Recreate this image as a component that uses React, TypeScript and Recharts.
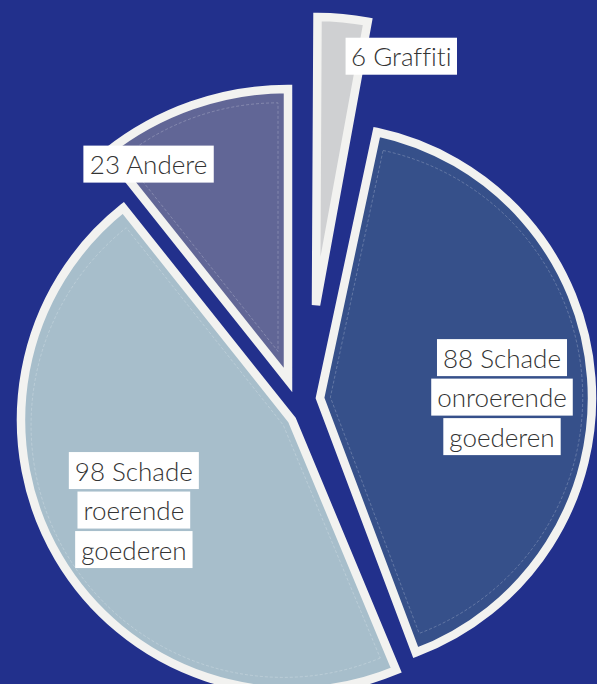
import { Cell, Pie, PieChart } from "recharts";

const categories = ["Graffiti", "Schade onroerende goederen", "Schade roerende goederen", "Andere"];
const counts = [6, 88, 98, 23];
const sliceColors = ["#CFD0D2", "#36508A", "#A7BECB", "#616696"];

const rows = categories.map((name, i) => ({ name, value: counts[i] }));
const total = counts.reduce((a, b) => a + b, 0);

const BG = "#22308C";
const EDGE = "#F2F2F0";
const FONT = "Lato, 'Open Sans', sans-serif";
const FONT_SIZE = 26;

// exploded slices: own centre, radius, small rotation (deg clockwise) and label spot
const placement = [
  { cx: 316, cy: 305, r: 288, rot: 0.3, labelR: 263, labelShift: 13.6, inset: false },
  { cx: 320, cy: 398, r: 272, rot: 2, labelR: 182, labelShift: 4, inset: true },
  { cx: 292, cy: 420, r: 271, rot: 0, labelR: 182, labelShift: 0.9, inset: true },
  { cx: 288, cy: 380, r: 291, rot: 0, labelR: 257, labelShift: -13.6, inset: true },
];

const RAD = Math.PI / 180;

let measureCtx: CanvasRenderingContext2D | null = null;
function textWidth(s: string) {
  if (!measureCtx) measureCtx = document.createElement("canvas").getContext("2d");
  if (!measureCtx) return s.length * FONT_SIZE * 0.5;
  measureCtx.font = `300 ${FONT_SIZE}px ${FONT}`;
  return measureCtx.measureText(s).width;
}

function wrapLabel(name: string, value: number) {
  const words = name.split(" ");
  return [`${value} ${words[0]}`, ...words.slice(1)];
}

function LabelBoxes({ x, y, lines }: { x: number; y: number; lines: string[] }) {
  const lh = 39.5;
  const h = 37;
  const pad = 6;
  const top = y - ((lines.length - 1) * lh) / 2;
  return (
    <g>
      {lines.map((t, i) => {
        const w = textWidth(t) + pad * 2;
        const yy = top + i * lh;
        return (
          <g key={i}>
            <rect x={x - w / 2} y={yy - h / 2} width={w} height={h} fill="#fff" />
            <text
              x={x}
              y={yy}
              textAnchor="middle"
              dominantBaseline="central"
              fontSize={FONT_SIZE}
              fontWeight={300}
              fontFamily={FONT}
              fill="#333"
              style={{ fontVariantLigatures: "none" }}
            >
              {t}
            </text>
          </g>
        );
      })}
    </g>
  );
}

// angles of slice i, clockwise from 12 o'clock
function sliceAngles(i: number) {
  const before = counts.slice(0, i).reduce((a, b) => a + b, 0);
  const start = (before / total) * 360 + placement[i].rot;
  const span = (counts[i] / total) * 360;
  return { mid: start + span / 2, half: span / 2 };
}

export default function App() {
  return (
    <div
      style={{
        position: "fixed",
        left: 0,
        top: 0,
        width: 597,
        height: 684,
        background: BG,
        overflow: "hidden",
      }}
    >
      <PieChart width={597} height={684} margin={{ top: 0, right: 0, bottom: 0, left: 0 }}>
        {placement.map((p, i) => (
          <Pie
            key={`slice-${i}`}
            data={rows}
            dataKey="value"
            nameKey="name"
            cx={p.cx}
            cy={p.cy}
            outerRadius={p.r}
            startAngle={90 - p.rot}
            endAngle={-270 - p.rot}
            stroke="none"
            isAnimationActive={false}
          >
            {rows.map((_, j) =>
              j === i ? (
                <Cell key={j} fill={sliceColors[j]} stroke={EDGE} strokeWidth={8.5} />
              ) : (
                <Cell key={j} fill="none" stroke="none" />
              )
            )}
          </Pie>
        ))}
        {placement.map((p, i) => {
          if (!p.inset) return null;
          const { mid, half } = sliceAngles(i);
          const s = 10 / Math.sin(half * RAD);
          const cx = p.cx + s * Math.sin(mid * RAD);
          const cy = p.cy - s * Math.cos(mid * RAD);
          const r = p.r - 13 - (s * (1 + Math.cos(half * RAD))) / 2;
          return (
            <Pie
              key={`inset-${i}`}
              data={rows}
              dataKey="value"
              nameKey="name"
              cx={cx}
              cy={cy}
              outerRadius={r}
              startAngle={90 - p.rot}
              endAngle={-270 - p.rot}
              stroke="none"
              isAnimationActive={false}
            >
              {rows.map((_, j) =>
                j === i ? (
                  <Cell
                    key={j}
                    fill="none"
                    stroke="rgba(255,255,255,0.22)"
                    strokeWidth={1}
                    strokeDasharray="3 2"
                  />
                ) : (
                  <Cell key={j} fill="none" stroke="none" />
                )
              )}
            </Pie>
          );
        })}
        {placement.map((p, i) => (
          <Pie
            key={`label-${i}`}
            data={rows}
            dataKey="value"
            nameKey="name"
            cx={p.cx}
            cy={p.cy}
            outerRadius={p.r}
            startAngle={90 - p.rot}
            endAngle={-270 - p.rot}
            fill="none"
            stroke="none"
            labelLine={false}
            isAnimationActive={false}
            label={(props: any) => {
              if (props.index !== i) return null;
              const a = 90 - props.midAngle + p.labelShift;
              const x = p.cx + p.labelR * Math.sin(a * RAD);
              const y = p.cy - p.labelR * Math.cos(a * RAD);
              return <LabelBoxes key={`lb-${i}`} x={x} y={y} lines={wrapLabel(rows[i].name, rows[i].value)} />;
            }}
          >
            {rows.map((_, j) => (
              <Cell key={j} fill="none" stroke="none" />
            ))}
          </Pie>
        ))}
      </PieChart>
    </div>
  );
}
